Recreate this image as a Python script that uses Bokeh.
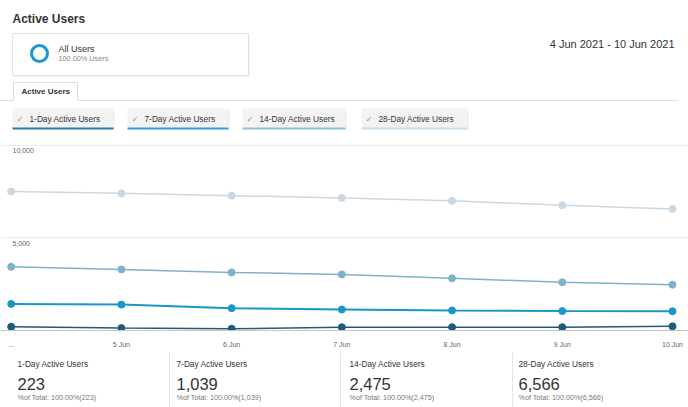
from bokeh.plotting import figure
from bokeh.layouts import column
from bokeh.models import Range1d, FixedTicker
from bokeh.core.properties import value
from bokeh.embed import file_html
from bokeh.resources import INLINE

# ---------------- data ----------------
dates = ["4 Jun", "5 Jun", "6 Jun", "7 Jun", "8 Jun", "9 Jun", "10 Jun"]
x_tick_labels = ["...", "5 Jun", "6 Jun", "7 Jun", "8 Jun", "9 Jun", "10 Jun"]
day_index = [0, 1, 2, 3, 4, 5, 6]
one_day = [200, 130, 95, 175, 180, 178, 223]
seven_day = [1436, 1399, 1207, 1133, 1080, 1048, 1039]
fourteen_day = [3441, 3298, 3138, 3032, 2819, 2606, 2475]
twenty_eight_day = [7516, 7410, 7287, 7165, 7005, 6771, 6566]
series_names = ["1-Day Active Users", "7-Day Active Users",
                "14-Day Active Users", "28-Day Active Users"]
totals = [223, 1039, 2475, 6566]
y_ticks = [5000, 10000]
y_tick_labels = ["5,000", "10,000"]
title_text = "Active Users"
tab_text = "Active Users"
date_range_label = "4 Jun 2021 - 10 Jun 2021"
segment_label = "All Users"
segment_share = "100.00% Users"

FONT = value("Liberation Sans")
W = 688
series_colors = ["#1d5b7c", "#1997cb", "#80b1ca", "#c9d8e2"]
underline_colors = ["#2f7ba6", "#3aa0d6", "#8cc3e0", "#c8dfed"]


def deco_fig(h):
    f = figure(width=W, height=h, x_range=Range1d(0, W), y_range=Range1d(h, 0),
               output_backend="svg", toolbar_location=None,
               x_axis_location=None, y_axis_location=None,
               min_border=0, outline_line_color=None)
    f.grid.visible = False
    return f


# ---------------- header ----------------
header = deco_fig(140)
header.text(x=[12], y=[18], text=[title_text], text_font=FONT, text_font_size="12px",
            text_font_style="bold", text_color="#333333", text_baseline="middle")
# segment box
header.quad(left=[13], right=[249], top=[34], bottom=[76], fill_color="#efefef", line_color=None)
header.quad(left=[12], right=[248], top=[33], bottom=[75], fill_color="white", line_color="#e2e2e2")
header.circle(x=[39], y=[53], radius=8, fill_color=None, line_color="#1a97cf", line_width=3)
header.text(x=[58], y=[48], text=[segment_label], text_font=FONT, text_font_size="9px",
            text_color="#333333", text_baseline="middle")
header.text(x=[58], y=[58], text=[segment_share], text_font=FONT, text_font_size="7.3px",
            text_color="#888888", text_baseline="middle")
# date range
header.text(x=[674], y=[43], text=[date_range_label], text_font=FONT, text_font_size="11px",
            text_color="#333333", text_baseline="middle", text_align="right")
# tab
header.quad(left=[13], right=[77], top=[82], bottom=[100], fill_color="white", line_color=None)
header.multi_line(xs=[[13, 13, 77, 77], [77, 678], [0, 13]],
                  ys=[[100, 82, 82, 100], [100, 100], [100, 100]],
                  line_color="#dddddd", line_width=1)
header.text(x=[21], y=[91], text=[tab_text], text_font=FONT, text_font_size="8px",
            text_font_style="bold", text_color="#333333", text_baseline="middle")
# series buttons
b_left = [12, 127, 242, 361]
b_right = [113, 228, 345, 467]
header.quad(left=[l + 1 for l in b_left], right=[r + 1 for r in b_right], top=109, bottom=129,
            fill_color="#e9e9e9", line_color=None)
header.quad(left=b_left, right=b_right, top=108, bottom=128, fill_color="#f3f3f3", line_color=None)
header.segment(x0=b_left, x1=b_right, y0=128, y1=128, line_color=underline_colors, line_width=2)
header.text(x=[l + 4 for l in b_left], y=118, text=["\u2713"] * 4, text_font=value("DejaVu Sans"),
            text_font_size="8.5px", text_color="#999999", text_baseline="middle")
header.text(x=[l + 17 for l in b_left], y=118, text=series_names, text_font=FONT,
            text_font_size="8.3px", text_color="#333333", text_baseline="middle")

# ---------------- chart ----------------
x0, x1 = -0.097, 6.145
chart = figure(width=W, height=210, x_range=Range1d(x0, x1), y_range=Range1d(0, 10266),
               output_backend="svg", toolbar_location=None, y_axis_location=None,
               min_border_left=0, min_border_right=0, min_border_top=0, min_border_bottom=17,
               outline_line_color=None)
chart.xgrid.visible = False
chart.ygrid.ticker = FixedTicker(ticks=y_ticks)
chart.ygrid.grid_line_color = "#ececec"
xa = chart.xaxis[0]
xa.ticker = FixedTicker(ticks=day_index)
xa.major_label_overrides = {i: lab for i, lab in zip(day_index, x_tick_labels)}
xa.axis_line_color = "#c4c4c4"
xa.major_tick_line_color = None
xa.minor_tick_line_color = None
xa.major_label_text_font = "Liberation Sans"
xa.major_label_text_font_size = "7px"
xa.major_label_text_color = "#666666"
xa.major_label_standoff = 4

chart.text(x=[x0, x0], y=y_ticks, text=y_tick_labels, x_offset=12, y_offset=3,
           text_font=FONT, text_font_size="7px", text_color="#666666", text_baseline="top")

series = [one_day, seven_day, fourteen_day, twenty_eight_day]
widths = [1.5, 2, 1.5, 1.5]
for vals, col, lw in zip(reversed(series), reversed(series_colors), reversed(widths)):
    chart.line(day_index, vals, line_color=col, line_width=lw)
    chart.scatter(day_index, vals, size=7, fill_color=col, line_color=col)

# ---------------- summary ----------------
summary = deco_fig(57)
c_left = [17, 176, 349, 518]
summary.segment(x0=[169, 340, 512], x1=[169, 340, 512], y0=2, y1=57,
                line_color="#e6e6e6", line_width=1)
summary.text(x=c_left, y=13, text=series_names, text_font=FONT, text_font_size="8.3px",
             text_color="#333333", text_baseline="middle")
summary.text(x=c_left, y=33, text=[f"{t:,}" for t in totals], text_font=FONT,
             text_font_size="16.5px", text_color="#333333", text_baseline="middle")
summary.text(x=c_left, y=47, text=[f"%of Total: 100.00%({t:,})" for t in totals], text_font=FONT,
             text_font_size="7.2px", text_color="#777777", text_baseline="middle")

layout = column(header, chart, summary, spacing=0)
open("out.html", "w").write(file_html(layout, INLINE))
